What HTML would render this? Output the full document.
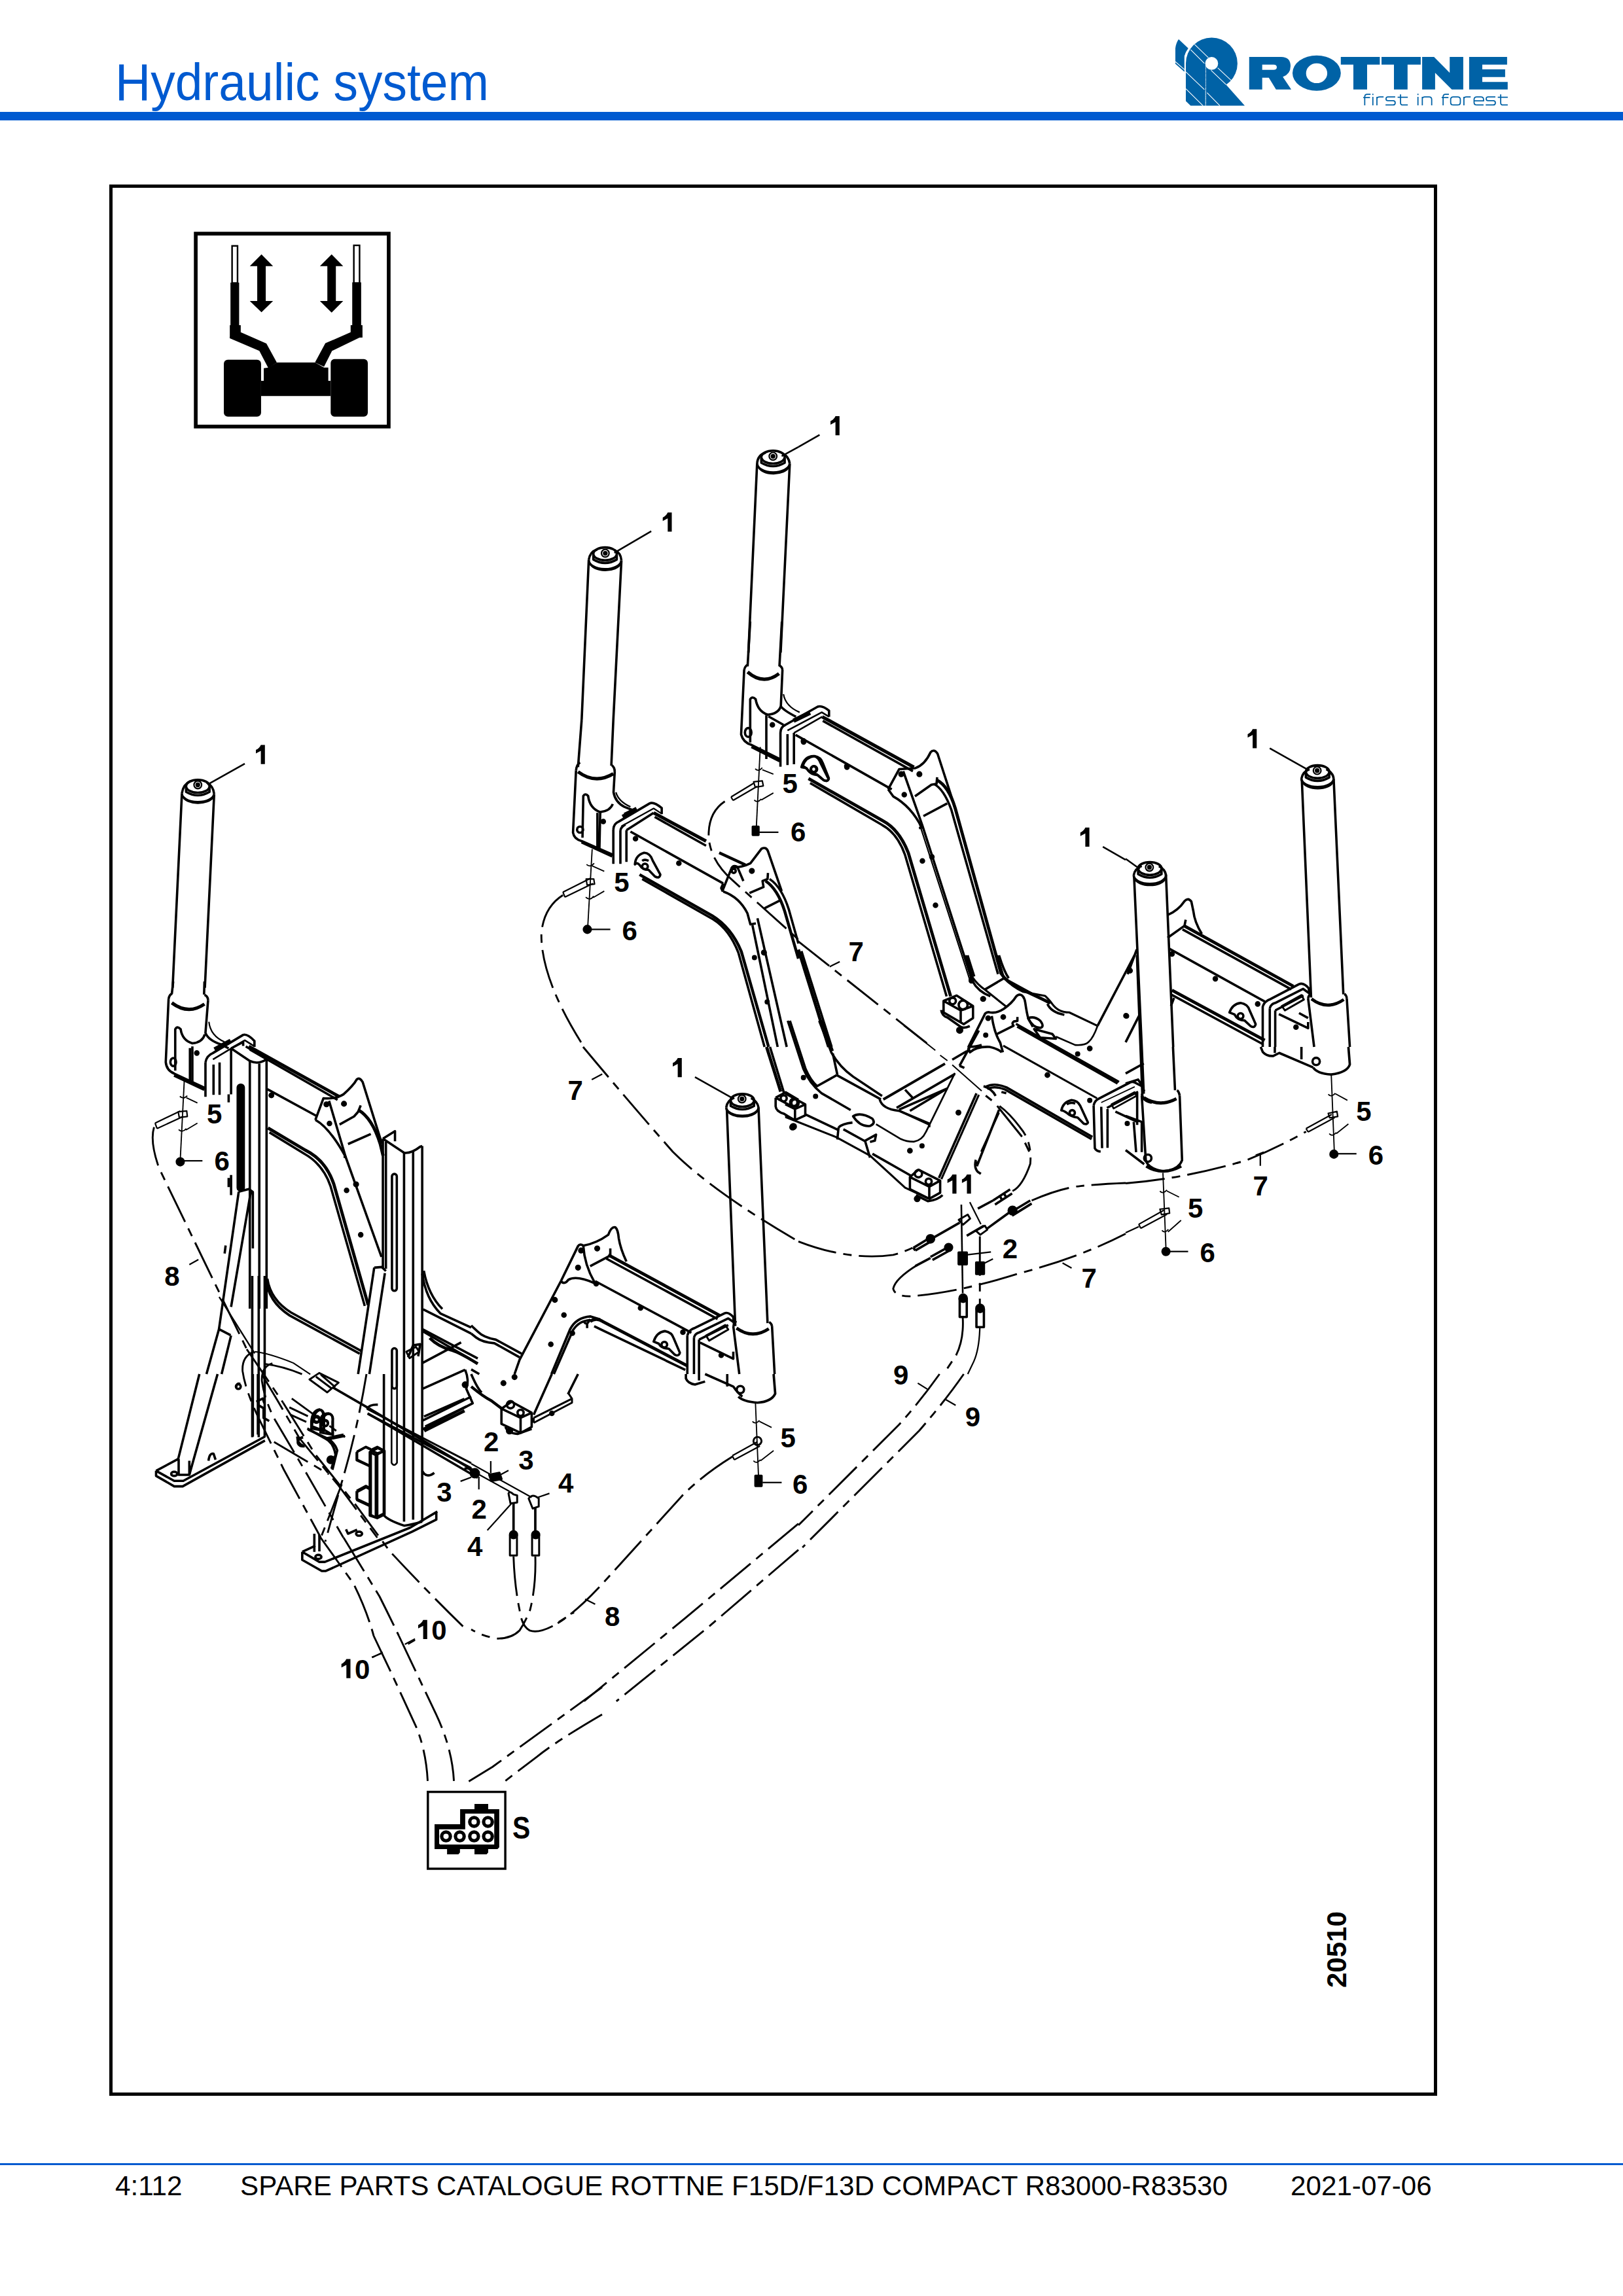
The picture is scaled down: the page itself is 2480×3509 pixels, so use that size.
<!DOCTYPE html>
<html><head><meta charset="utf-8">
<style>
html,body{margin:0;padding:0;background:#fff;}
body{width:2480px;height:3509px;position:relative;overflow:hidden;font-family:"Liberation Sans",sans-serif;}
.t{position:absolute;white-space:nowrap;line-height:1;}
#title{left:176px;top:86.3px;font-size:75px;color:#005ad0;transform:scaleY(1.059);transform-origin:0 0;}
#hline{position:absolute;left:0;top:171px;width:2480px;height:13px;background:#005ad0;}
#fline{position:absolute;left:0;top:3306px;width:2480px;height:3px;background:#005ad0;}
.ft{font-size:42.2px;color:#000;top:3320px;}
svg{position:absolute;left:0;top:0;}
</style></head><body>
<div class="t" id="title">Hydraulic system</div>
<div id="hline"></div>
<div id="fline"></div>
<div class="t ft" style="left:176px">4:112</div>
<div class="t ft" style="left:367px">SPARE PARTS CATALOGUE ROTTNE F15D/F13D COMPACT R83000-R83530</div>
<div class="t ft" style="left:1972px">2021-07-06</div>
<svg width="2480" height="3509" viewBox="0 0 2480 3509">
<!-- LOGO -->
<g fill="#0062a6">
<path fill-rule="evenodd" d="M1908.8,86.9 L1957.6,86.9 Q1972,87 1972,101 Q1972,113 1960.2,117.5 L1973.1,136.8 L1949.8,136.8 L1938.8,118.7 L1928.7,118.7 L1928.7,136.8 L1908.8,136.8 Z M1928.7,98.7 L1946,98.7 Q1951,98.7 1951,102.7 Q1951,106.7 1946,106.7 L1928.7,106.7 Z"/>
<path fill-rule="evenodd" d="M1975,111.7 A36.9,27 0 1 0 2048.8,111.7 A36.9,27 0 1 0 1975,111.7 Z M1995.7,111.9 A16.2,15.2 0 1 0 2028.1,111.9 A16.2,15.2 0 1 0 1995.7,111.9 Z"/>
<path d="M2048.8,86.9 H2108.4 V98.7 H2089 V136.8 H2068 V98.7 H2048.8 Z"/>
<path d="M2111,86.9 H2170.9 V98.7 H2150.8 V136.8 H2130 V98.7 H2111 Z"/>
<path d="M2173.1,86.9 L2191.2,86.9 L2215.2,111.2 L2215.2,86.9 L2235.9,86.9 L2235.9,136.8 L2218.4,136.8 L2192.9,111.2 L2192.9,136.8 L2173.1,136.8 Z"/>
<path d="M2244.9,86.9 H2302.9 V98.7 H2265 V106 H2299.9 V117.7 H2265 V125.2 H2303.8 V136.8 H2244.9 Z"/>
</g>
<g transform="translate(2075,135) scale(0.14787)" fill="none" stroke="#0062a6" stroke-width="12">
<path d="M130,62 H95 Q70,62 70,90 V175 M55,95 H125 M154,55 V70 M154,88 V175 M196,175 V88 M196,110 Q196,88 225,88 H265 M385,88 H310 Q290,88 290,108 Q290,128 310,128 H362 Q385,128 385,150 Q385,172 362,172 H285 M440,62 V150 Q440,172 465,172 H515 M410,92 H515 M620,55 V70 M620,88 V175 M665,175 V88 M665,110 Q665,88 690,88 H735 Q762,88 762,115 V175 M940,62 H905 Q880,62 880,90 V175 M865,95 H935 M985,88 H1030 Q1058,88 1058,115 V145 Q1058,172 1030,172 H985 Q958,172 958,145 V115 Q958,88 985,88 Z M1095,175 V88 M1095,110 Q1095,88 1120,88 H1165 M1200,130 H1298 V115 Q1298,88 1270,88 H1228 Q1200,88 1200,115 V145 Q1200,172 1228,172 H1298 M1420,88 H1345 Q1325,88 1325,108 Q1325,128 1345,128 H1397 Q1420,128 1420,150 Q1420,172 1397,172 H1320 M1475,62 V150 Q1475,172 1500,172 H1548 M1445,92 H1548"/>
</g>
<g transform="translate(1780,40) scale(0.13556)">
<g fill="#0062a6">
<circle cx="527" cy="420" r="291"/>
<path d="M236,420 H455 V897 H290 L236,845 Z"/>
<path d="M455,440 L690,660 L900,897 L455,897 Z"/>
<path d="M155,148 Q125,190 118,250 V425 L220,515 V340 Q232,290 265,250 Z"/>
</g>
<circle cx="527" cy="420" r="73" fill="#fff"/>
<g stroke="#fff" stroke-width="8" fill="none">
<path d="M335,205 L490,355 M290,265 L445,420 M595,470 L745,610 M520,497 L690,660 M236,515 L445,715 M236,705 L430,897 M475,750 L620,897 M118,400 L220,490"/>
<path d="M461,440 V897" stroke-dasharray="10 6"/>
<path d="M228,515 V340 Q240,290 275,245" stroke-width="14"/>
</g>
</g>

<!-- MAIN BORDER -->
<rect x="169.5" y="284.5" width="2024" height="2916" fill="none" stroke="#000" stroke-width="5"/>

<!-- ICON -->
<g transform="translate(280,340) scale(0.20333)">
<rect x="94" y="84" width="1450" height="1450" fill="none" stroke="#000" stroke-width="28"/>
<g fill="#000">
<rect x="355" y="452" width="65" height="323"/>
<rect x="350" y="772" width="82" height="98"/>
<path d="M350,860 L432,825 L625,910 L703,1052 L640,1095 L572,965 L350,870 Z"/>
<rect x="1270" y="450" width="67" height="325"/>
<rect x="1258" y="772" width="89" height="93"/>
<path d="M1258,825 L1347,855 L1118,965 L1058,1085 L990,1052 L1068,908 Z"/>
<path d="M703,1052 H990 L1058,1090 H1090 V1190 H1108 V1305 H585 V1190 H605 V1095 L640,1090 Z"/>
<rect x="305" y="1032" width="280" height="428" rx="30"/>
<rect x="1108" y="1027" width="279" height="433" rx="30"/>
<path d="M588,240 L675,328 H620 V590 H675 L588,675 L500,590 H556 V328 H500 Z"/>
<path d="M1115,240 L1202,328 H1147 V590 H1202 L1115,678 L1027,590 H1083 V328 H1027 Z"/>
</g>
<g fill="#fff" stroke="#000" stroke-width="12">
<rect x="367" y="176" width="41" height="279"/>
<rect x="1282" y="172" width="43" height="283"/>
</g>
</g>

<!-- S CONNECTOR BOX -->
<g transform="translate(640,2700) scale(0.123229)">
<rect x="112" y="313" width="960" height="953" fill="none" stroke="#000" stroke-width="28"/>
<path fill="#000" fill-rule="evenodd" d="M195,715 L512,715 L512,527 L690,527 L690,463 L860,463 L860,527 L997,527 L997,1000 L975,1022 L860,1022 L860,1065 L840,1087 L690,1087 L690,1022 L510,1022 L510,1065 L490,1087 L350,1087 L350,1022 L195,1022 Z M252,778 L575,778 L575,583 L935,583 L935,965 L262,965 L252,955 Z"/>
<g fill="none" stroke="#000" stroke-width="42">
<circle cx="685" cy="685" r="54"/><circle cx="857" cy="685" r="54"/>
<circle cx="337" cy="865" r="54"/><circle cx="508" cy="865" r="54"/><circle cx="685" cy="865" r="54"/><circle cx="857" cy="865" r="54"/>
</g>
</g>
<text transform="translate(783,2809.5) scale(0.95,1.1)" font-family="Liberation Sans" font-weight="bold" font-size="43">S</text>
<text transform="translate(2057,3038) rotate(-90)" font-family="Liberation Sans" font-weight="bold" font-size="42">20510</text>

<!-- DRAWING -->
<g transform="translate(220,1100) scale(0.308071)" fill="none" stroke="#000" stroke-width="11.69" stroke-linejoin="round" stroke-linecap="butt">
<path d="M188,365 Q195,320 230,305 M348,368 Q345,330 310,310"/>
<path d="M188,365 A80,42 0 0 0 348,368"/>
<path d="M194,383 A76,38 0 0 0 342,386" stroke-width="7.2"/>
<ellipse cx="267" cy="330" rx="58" ry="32"/>
<path d="M209,335 V358 Q267,392 325,358 V335"/>
<circle cx="267" cy="323" r="19" stroke-width="7.2"/><circle cx="267" cy="323" r="6" fill="#000"/>
<path d="M188,368 L142,1330 M348,372 L302,1330"/>






<path d="M315,322 L500,218" stroke-width="8.4"/>

</g>
<g transform="translate(220,1600) scale(0.308071)" fill="none" stroke="#000" stroke-width="11.69" stroke-linejoin="round" stroke-linecap="butt">
<!-- left stake channel -->




<path d="M470,718 L372,1400 M530,718 L432,1290 M470,718 L520,705 L540,720 L540,1000"/>
<path d="M405,985 L400,1025 M372,1400 L310,1623 M432,1432 L385,1623 M372,1400 L430,1430"/>
<!-- beam -->


<path d="M612,210 L860,345"/>
<circle cx="632" cy="240" r="8" fill="#000"/>
<path d="M850,362 L890,255 Q950,260 990,235 Q1040,190 1055,162 Q1070,148 1085,175 L1180,480"/>
<path d="M850,362 Q920,400 1000,545 L990,545"/>
<path d="M918,268 L1000,545 M970,385 L1042,345 L1062,322 L1075,290 M1012,482 L1125,432"/>
<path d="M615,402 L800,512 Q902,562 942,682 L1112,1280" stroke-width="15.6"/>
<path d="M622,424 L795,530 Q888,582 925,690 L1095,1285"/>
<path d="M1000,545 L1178,1042"/>
<path d="M1062,312 Q1132,352 1172,482 L1186,540" stroke-width="15.6"/>
<circle cx="1005" cy="712" r="8" fill="#000"/><circle cx="1075" cy="932" r="8" fill="#000"/><circle cx="1052" cy="682" r="9" fill="#000"/><circle cx="992" cy="282" r="9" fill="#000"/><circle cx="905" cy="285" r="9" fill="#000"/><circle cx="920" cy="380" r="8" fill="#000"/>
<!-- right stake -->
<path d="M1185,455 L1245,418 V468 M1185,455 L1290,525 Q1325,530 1370,495 L1380,492"/>
<path d="M1185,455 V1100 M1200,470 V1100 M1290,525 V1623 M1335,515 V1623 M1380,492 V1623"/>
<path d="M1380,1125 Q1398,1250 1470,1322 L1623,1392 M1388,1110 Q1410,1230 1480,1300"/>
<rect x="1230" y="630" width="24" height="580" rx="12"/>
<rect x="1230" y="1495" width="24" height="200" rx="12"/>
<path d="M1142,1095 L1062,1623 M1195,1122 L1118,1623 M1142,1095 L1180,1092 L1200,1112"/>
<!-- inner frame -->
<path d="M598,1142 L605,1150 Q615,1262 722,1332 L1070,1522" stroke-width="12.0"/>
<path d="M612,1150 Q628,1255 730,1318 L1080,1510"/>
<path d="M1385,1302 L1623,1422 M1385,1412 L1623,1552"/>
<path d="M1310,1540 L1335,1480 L1370,1475 L1360,1535" />
<!-- hose 8 -->
<path d="M50,398 Q28,470 75,602 L510,1500" stroke-dasharray="195 36 42 36" stroke-width="9.4"/>
<path d="M225,1080 L270,1055" stroke-width="7.2"/>
<!-- pins -->
<path d="M200,165 L180,560" stroke-width="6.0"/>
<path d="M55,378 L180,318 M65,405 L195,345 M55,378 L65,405" stroke-width="7.2"/>
<path d="M170,322 L212,318 L215,345 L175,350 Z" stroke-width="7.2"/>
<path d="M178,245 Q195,262 215,242 M210,252 L265,278 M172,410 Q190,428 210,405 M208,412 L265,378" stroke-width="6.0"/>
<circle cx="180" cy="570" r="17" fill="#000"/>
<path d="M200,565 L290,565" stroke-width="7.2"/>


</g>
<g transform="translate(720,600) scale(0.308071)" fill="none" stroke="#000" stroke-width="11.69" stroke-linejoin="round" stroke-linecap="butt">
<!-- M-left cylinder -->
<path d="M583,830 Q588,790 625,778 M745,832 Q742,795 712,782"/>
<path d="M583,830 A81,45 0 0 0 745,832"/>
<path d="M590,848 A76,40 0 0 0 740,850" stroke-width="7.2"/>
<ellipse cx="664" cy="800" rx="58" ry="32"/>
<path d="M606,805 V828 Q664,862 722,828 V805"/>
<circle cx="665" cy="797" r="19" stroke-width="7.2"/>
<circle cx="665" cy="797" r="6" fill="#000"/>
<path d="M583,832 L548,1623 M745,835 L705,1623"/>
<path d="M710,795 L893,688" stroke-width="8.4"/>
<!-- U1 cylinder -->
<path d="M1418,350 Q1422,310 1460,298 M1580,352 Q1576,318 1545,302"/>
<path d="M1418,350 A81,45 0 0 0 1580,352"/>
<path d="M1425,368 A76,40 0 0 0 1575,370" stroke-width="7.2"/>
<ellipse cx="1497" cy="320" rx="58" ry="32"/>
<path d="M1439,325 V348 Q1497,382 1555,348 V325"/>
<circle cx="1497" cy="316" r="19" stroke-width="7.2"/>
<circle cx="1497" cy="316" r="6" fill="#000"/>
<path d="M1418,352 L1375,1290 M1580,355 L1535,1290"/>
<path d="M1540,315 L1623,270" stroke-width="8.4"/>

</g>
<g transform="translate(720,1100) scale(0.308071)" fill="none" stroke="#000" stroke-width="11.69" stroke-linejoin="round" stroke-linecap="butt">
<!-- M-left housing -->
<path d="M548,0 L530,235 M705,0 L695,228"/>
<path d="M520,252 Q523,222 540,212 M712,256 Q711,236 698,226"/>
<path d="M530,258 Q615,322 705,268" stroke-width="16.8"/>
<path d="M520,252 L505,560 Q510,592 548,602 L700,668" />
<path d="M548,606 L700,676" stroke-width="16.8"/>
<path d="M712,256 L706,360 Q715,410 760,432 L800,448" />
<path d="M718,360 Q730,405 790,432" stroke-width="7.2"/>
<path d="M552,585 L556,378 Q566,362 580,378 Q588,440 640,458 Q690,452 702,418"/>
<path d="M640,458 L636,640 M626,462 V640"/>
<circle cx="540" cy="545" r="15"/>
<circle cx="655" cy="505" r="8" fill="#000"/>
<!-- flange -->
<path d="M705,545 Q706,515 732,505 L885,415 Q905,405 945,438 V468"/>
<path d="M745,528 L905,440 L945,466" stroke-width="7.2"/>
<path d="M705,545 V715 M740,548 V715 M770,548 V705"/>
<path d="M740,548 Q745,530 765,520 M770,548 L905,462"/>
<path d="M760,470 L820,440 M750,480 L810,450" stroke-width="16.8"/>
<!-- beam -->
<path d="M905,462 L1165,602" stroke-width="16.8"/>
<path d="M910,482 L1165,625"/>
<path d="M790,555 L1250,812"/>
<path d="M1250,812 L1240,835 L1248,852"/>
<circle cx="815" cy="590" r="8" fill="#000"/>
<circle cx="1030" cy="712" r="8" fill="#000"/>
<!-- lower thick side -->
<path d="M835,768 L1195,972 Q1290,1030 1340,1150 L1475,1623" stroke-width="14.4"/>
<path d="M848,790 L1200,990 Q1280,1040 1325,1155 L1455,1623"/>
<!-- pivot ear -->
<path d="M812,718 Q815,672 858,660 Q888,662 900,698 L938,768 Q935,790 912,778 L880,745 Q850,745 835,720 Q822,705 812,718 Z"/>
<circle cx="862" cy="728" r="14"/>
<path d="M848,700 Q860,690 880,700"/>
<!-- bracket right -->
<path d="M1245,852 L1292,735 Q1350,730 1385,712 L1440,640 Q1462,628 1472,652 L1540,850"/>
<path d="M1250,852 Q1330,880 1370,960 L1385,1015 L1412,1010"/>
<path d="M1292,735 Q1300,720 1320,730 L1350,800"/>
<path d="M1380,860 L1450,830 L1445,800 L1470,790 L1472,760"/>
<path d="M1460,800 Q1520,840 1555,950 L1623,1185" stroke-width="14.4"/>
<path d="M1480,790 Q1540,830 1575,940 L1623,1110"/>
<path d="M1395,1020 L1520,1623 M1420,985 L1565,1623"/>
<path d="M1455,935 L1535,895"/>
<path d="M1230,660 L1360,720" stroke-width="14.4"/>
<circle cx="1302" cy="750" r="10"/><circle cx="1392" cy="750" r="9" fill="#000"/>
<circle cx="1405" cy="1180" r="7" fill="#000"/><circle cx="1468" cy="1400" r="7" fill="#000"/><circle cx="1452" cy="1155" r="9" fill="#000"/>
<!-- pins left -->
<path d="M600,642 L578,1030" stroke-width="6.0"/>
<path d="M455,855 L592,786 M465,880 L604,812 M455,855 L465,880" stroke-width="7.2"/>
<path d="M570,790 L608,790 L612,815 L575,820 Z" stroke-width="7.2"/>
<path d="M572,718 Q590,735 610,712 M600,725 L660,752 M568,880 Q588,900 608,875 M605,882 L660,850" stroke-width="6.0"/>
<circle cx="576" cy="1040" r="17" fill="#000"/>
<path d="M595,1040 L690,1040" stroke-width="7.2"/>
<!-- hose 7 dashed -->
<path d="M455,870 Q360,930 348,1060 Q345,1280 545,1600" stroke-dasharray="195 36 42 36" stroke-width="9.4"/>
<path d="M1258,405 Q1175,460 1178,580 Q1185,700 1300,800 L1623,1090" stroke-dasharray="195 36 42 36" stroke-width="9.4"/>

</g>
<g transform="translate(720,1600) scale(0.308071)" fill="none" stroke="#000" stroke-width="11.69" stroke-linejoin="round" stroke-linecap="butt">
<!-- front-right cylinder -->
<path d="M1265,300 Q1270,265 1305,252 M1425,300 Q1420,270 1388,254"/>
<path d="M1265,300 A80,42 0 0 0 1425,300"/>
<path d="M1271,318 A76,38 0 0 0 1419,318" stroke-width="7.2"/>
<ellipse cx="1345" cy="265" rx="58" ry="32"/>
<path d="M1287,270 V293 Q1345,327 1403,293 V270"/>
<circle cx="1343" cy="258" r="19" stroke-width="7.2"/><circle cx="1343" cy="258" r="6" fill="#000"/>
<path d="M1268,310 L1310,1385 M1425,300 L1470,1370"/>
<path d="M1300,1385 Q1305,1366 1316,1360 M1478,1365 Q1490,1372 1492,1385"/>
<path d="M1316,1395 Q1395,1452 1476,1398" stroke-width="15.6"/>
<path d="M1300,1385 L1330,1623 M1492,1385 L1505,1623"/>
<path d="M1110,150 L1292,252" stroke-width="8.4"/>
<!-- hose 7 -->
<path d="M555,0 Q780,270 1000,520 Q1200,720 1623,965" stroke-dasharray="195 36 42 36" stroke-width="9.4"/>
<path d="M598,162 L650,135" stroke-width="7.2"/>
<!-- back arm end -->
<path d="M1465,0 L1535,222" stroke-width="15.6"/>
<path d="M1482,0 L1552,230"/>
<path d="M1510,252 L1560,225 L1623,262 M1510,252 V295 Q1512,320 1552,332 L1600,362 M1510,252 L1600,300"/>
<circle cx="1550" cy="255" r="15"/><circle cx="1600" cy="275" r="18"/>
<circle cx="1598" cy="395" r="12" fill="#000"/>
<!-- bracket -->
<path d="M445,1162 L530,988 Q540,975 556,986 Q620,975 680,932 Q695,890 715,895 Q728,905 732,950 Q740,1000 770,1065"/>
<path d="M556,986 Q562,1082 612,1168 M590,1088 L690,1035 V1000 M445,1162 Q462,1182 482,1155 Q522,1132 612,1172"/>
<path d="M680,1032 L1232,1332" stroke-width="15.6"/>
<path d="M670,1050 L1222,1350"/>
<path d="M615,1162 L1092,1418"/>
<path d="M590,1362 Q620,1340 652,1362 L1072,1582" stroke-width="15.6"/>
<path d="M610,1386 L1062,1602"/>
<circle cx="545" cy="1010" r="9" fill="#000"/><circle cx="625" cy="1000" r="9" fill="#000"/><circle cx="530" cy="1095" r="9" fill="#000"/><circle cx="620" cy="1175" r="8" fill="#000"/><circle cx="415" cy="1255" r="9" fill="#000"/><circle cx="460" cy="1330" r="8" fill="#000"/><circle cx="840" cy="1295" r="8" fill="#000"/><circle cx="395" cy="1475" r="8" fill="#000"/><circle cx="502" cy="1420" r="8" fill="#000"/><circle cx="1050" cy="1415" r="8" fill="#000"/>
<path d="M905,1462 Q920,1415 960,1410 Q995,1415 1005,1447 L1035,1517 Q1030,1537 1010,1527 L980,1497 Q945,1497 930,1472 Z"/>
<circle cx="958" cy="1477" r="14"/>
<path d="M1072,1432 Q1080,1402 1110,1394 L1255,1322 Q1275,1312 1300,1340 L1302,1372"/>
<path d="M1072,1432 V1623 M1105,1442 V1623 M1130,1452 V1623"/>
<path d="M1105,1442 Q1110,1422 1130,1417 L1275,1347 L1300,1364 M1130,1452 L1275,1380"/>
<path d="M1165,1432 L1260,1380 L1275,1402 L1180,1457 Z" stroke-width="9.6"/>
<path d="M1135,1467 L1300,1547 V1512"/>
<circle cx="1240" cy="1530" r="8" fill="#000"/>
<path d="M445,1162 L240,1552 L215,1623"/>
<path d="M398,1623 L490,1402 Q520,1342 592,1337 L640,1352" stroke-width="12.0"/>
<path d="M410,1623 L505,1405 Q535,1358 590,1355"/>
<path d="M560,1365 Q575,1385 590,1350 M575,1370 V1395"/>
<path d="M0,1382 L32,1412 Q62,1442 122,1452 L250,1522" stroke-width="12.0"/>
<path d="M0,1422 L25,1442 Q55,1465 115,1470 L240,1540"/>
<path d="M0,1600 L40,1623"/>

</g>
<g transform="translate(1220,600) scale(0.308071)" fill="none" stroke="#000" stroke-width="11.69" stroke-linejoin="round" stroke-linecap="butt">
<path d="M0,270 L105,210" stroke-width="8.4"/>


</g>
<g transform="translate(1220,1100) scale(0.308071)" fill="none" stroke="#000" stroke-width="11.69" stroke-linejoin="round" stroke-linecap="butt">
<circle cx="25" cy="105" r="8" fill="#000"/><circle cx="240" cy="230" r="8" fill="#000"/>
<path d="M15,235 Q30,180 75,180 Q100,185 110,215 L150,295 Q145,308 125,300 L90,270 Q55,268 40,240 Z"/>
<circle cx="75" cy="245" r="14"/>
<path d="M50,292 L420,502 Q500,545 545,660 L755,1372" stroke-width="15.6"/>
<path d="M58,314 L415,522 Q490,562 528,668 L735,1372"/>
<path d="M445,345 L500,245 L580,240 Q628,222 655,162 Q672,142 690,168 L778,440" />
<path d="M445,345 L470,380 Q560,430 612,535 L598,538"/>
<path d="M520,255 L615,525 L862,1295 Q892,1350 952,1372"/>
<path d="M600,515 L850,1290" stroke-width="7.2"/>
<path d="M688,300 Q745,330 778,440 L1005,1258 Q1032,1302 1092,1330 L1250,1405" stroke-width="15.6"/>
<path d="M672,318 Q722,345 758,445 L990,1262" />
<path d="M578,380 L660,322 L685,318 L688,285"/>
<path d="M620,478 L738,415"/>
<circle cx="510" cy="270" r="9" fill="#000"/><circle cx="600" cy="270" r="9" fill="#000"/><circle cx="525" cy="372" r="8" fill="#000"/>
<circle cx="615" cy="700" r="8" fill="#000"/><circle cx="680" cy="920" r="8" fill="#000"/><circle cx="662" cy="680" r="8" fill="#000"/><circle cx="858" cy="1295" r="8" fill="#000"/><circle cx="915" cy="1385" r="8" fill="#000"/>



<path d="M720,1395 L785,1368 L866,1420 V1480 L820,1510 L720,1452 Z M720,1395 L805,1442 L866,1420 M805,1442 V1505"/>
<path d="M708,1440 Q712,1470 740,1478 L800,1520 Q815,1535 850,1520"/>
<circle cx="765" cy="1395" r="16"/><circle cx="817" cy="1415" r="22"/>
<circle cx="800" cy="1540" r="12" fill="#000"/>



<path d="M0,1100 L660,1623" stroke-dasharray="195 36 42 36" stroke-width="9.4"/>
<path d="M155,1225 L205,1200" stroke-width="7.2"/>
<path d="M0,1140 L150,1623" stroke-width="15.6"/>
<path d="M15,1148 L165,1623"/>
<path d="M1510,630 L1623,695" stroke-width="8.4"/>

</g>
<g transform="translate(1720,1100) scale(0.308071)" fill="none" stroke="#000" stroke-width="11.69" stroke-linejoin="round" stroke-linecap="butt">
<!-- R-back cylinder -->
<path d="M872,292 Q878,258 912,245 M1032,292 Q1028,262 995,245"/>
<path d="M872,292 A80,42 0 0 0 1032,292"/>
<path d="M878,310 A76,38 0 0 0 1028,310" stroke-width="7.2"/>
<ellipse cx="952" cy="258" rx="58" ry="32"/>
<path d="M894,263 V286 Q952,320 1010,286 V263"/>
<circle cx="950" cy="252" r="19" stroke-width="7.2"/><circle cx="950" cy="252" r="6" fill="#000"/>
<path d="M874,298 L920,1378 M1032,295 L1080,1362"/>
<path d="M905,1382 Q908,1365 920,1360 M1085,1360 Q1095,1366 1097,1382"/>
<path d="M922,1385 Q1000,1445 1082,1388" stroke-width="15.6"/>
<path d="M905,1382 L935,1623 M1097,1382 L1112,1623"/>
<path d="M715,142 L898,245" stroke-width="8.4"/>
<!-- R-mid cylinder -->
<path d="M40,772 Q45,738 80,725 M200,772 Q196,742 165,726"/>
<path d="M40,772 A80,42 0 0 0 200,772"/>
<path d="M46,790 A76,38 0 0 0 196,790" stroke-width="7.2"/>
<ellipse cx="120" cy="738" rx="58" ry="32"/>
<path d="M62,743 V766 Q120,800 178,766 V743"/>
<circle cx="118" cy="732" r="19" stroke-width="7.2"/><circle cx="118" cy="732" r="6" fill="#000"/>
<path d="M42,780 L80,1623 M200,768 L236,1623"/>
<path d="M0,690 L70,740" stroke-width="8.4"/>
<!-- beam R-mid -->
<path d="M210,968 Q262,945 292,900 Q310,880 326,902 L336,950 Q342,1005 378,1062"/>
<path d="M208,1082 L292,1022 L298,992"/>
<path d="M290,1022 L832,1322" stroke-width="15.6"/>
<path d="M282,1040 L822,1338"/>
<path d="M215,1135 L690,1398"/>
<path d="M230,1342 L690,1590" stroke-width="15.6"/>
<path d="M224,1362 L682,1610"/>
<path d="M680,1422 Q688,1396 720,1385 L860,1312 Q882,1302 908,1332 L912,1362"/>
<path d="M680,1422 V1623 M715,1432 V1623 M742,1442 V1623"/>
<path d="M715,1432 Q720,1410 742,1405 L880,1335 L908,1355 M742,1442 L882,1368"/>
<path d="M775,1420 L872,1366 L884,1388 L790,1442 Z" stroke-width="9.6"/>
<path d="M760,1460 L905,1530 L905,1500 M860,1455 L905,1480"/>
<path d="M515,1452 Q530,1410 570,1405 Q605,1410 615,1442 L645,1510 Q640,1532 620,1520 L590,1492 Q555,1492 540,1462 Z"/>
<circle cx="570" cy="1470" r="14"/>
<circle cx="445" cy="1285" r="8" fill="#000"/><circle cx="655" cy="1410" r="8" fill="#000"/><circle cx="845" cy="1525" r="8" fill="#000"/><circle cx="230" cy="1162" r="8" fill="#000"/><circle cx="22" cy="1245" r="8" fill="#000"/><circle cx="5" cy="1470" r="7" fill="#000"/>
<path d="M55,1140 L10,1262 M72,1458 L0,1600 M240,1380 L225,1420"/>

</g>
<g transform="translate(220,1500) scale(0.308071)" fill="none" stroke="#000" stroke-width="11.69" stroke-linejoin="round" stroke-linecap="butt">
<path d="M145,0 L138,62 M300,0 L298,65"/>
<path d="M122,88 Q125,66 140,60 M318,92 Q316,72 300,66"/>
<path d="M138,106 Q220,168 300,112" stroke-width="16.8"/>
<path d="M122,88 L108,400 Q112,442 150,457 L300,527"/>
<path d="M150,465 L300,535" stroke-width="16.8"/>
<path d="M318,92 L305,255 Q320,292 382,312 L420,332"/>
<path d="M322,200 Q330,270 400,300" stroke-width="7.2"/>
<path d="M155,442 V237 Q165,218 182,237 Q190,292 240,307 Q290,302 302,262"/>
<ellipse cx="145" cy="400" rx="14" ry="20"/>
<path d="M240,322 V502 M228,330 V505"/>
<circle cx="262" cy="355" r="8" fill="#000"/>
<path d="M305,402 Q310,368 342,355 L492,265 Q512,258 548,295 V325"/>
<path d="M342,387 L500,292 L548,322" stroke-width="8.4"/>
<path d="M305,402 V572 M345,412 V562 M375,402 V562"/>
<path d="M350,337 L430,294" stroke-width="21.6"/>
<path d="M432,332 L492,300 V320"/>
<path d="M432,332 V560 M432,960 V1060 M420,560 V600 M420,975 V1020"/>
<path d="M432,332 L525,394 Q565,414 606,387 M505,322 L600,380" />
<path d="M525,394 V1623 M572,407 V1623 M608,387 V1623"/>
<rect x="465" y="512" width="30" height="525" rx="14" fill="#000"/>
<path d="M520,322 L970,572" stroke-width="15.6"/>
<path d="M525,337 L960,587"/>
<circle cx="632" cy="565" r="8" fill="#000"/>

</g>
<g transform="translate(330,1950) scale(0.246457)" fill="none" stroke="#000" stroke-width="14.61" stroke-linejoin="round" stroke-linecap="butt">
<!-- tank -->
<path d="M1280,330 L1623,512"/>
<path d="M1325,385 Q1380,440 1460,460 Q1520,480 1623,545" stroke-width="19.2"/>
<path d="M1280,540 L1520,412 M1280,700 L1545,582 M1545,582 Q1572,650 1552,700 L1592,790 L1280,952 M1290,872 L1540,762"/>
<circle cx="1545" cy="675" r="14" fill="#000"/>
<path d="M1180,470 L1240,440 L1260,470 L1200,510 Z" stroke-width="12.0"/>
<!-- rod -->
<path d="M950,822 L1623,1222"/>
<path d="M940,852 L1623,1252"/>
<!-- square tube & brackets -->
<path d="M960,1080 L1000,1060 L1045,1085 V1480 L1000,1502 L960,1482 Z M960,1080 L1000,1100 L1045,1085 M1000,1100 V1502"/>
<path d="M875,1090 L930,1060 L960,1075 M875,1090 V1140 L960,1180 M875,1340 L930,1310 L960,1325 M875,1340 V1390 L960,1430"/>
<!-- lug -->
<path d="M595,932 Q600,852 640,832 Q665,827 670,862 V962 Z M650,942 Q655,872 690,857 Q720,852 725,882 V987 Z"/>
<circle cx="625" cy="887" r="18"/><circle cx="677" cy="912" r="18"/>
<path d="M570,952 L700,1012 L800,992 M700,1012 Q740,1042 752,1082 L722,1202"/>
<circle cx="712" cy="1140" r="20" fill="#000"/>
<path d="M580,642 L640,602 L760,662 L690,722 Z M620,625 L720,700 M650,612 L740,690" stroke-width="12.0"/>
<path d="M722,690 L950,822"/>
<path d="M540,1000 Q500,1010 510,1040 Q520,1060 550,1055" stroke-width="16.8"/>
<path d="M455,815 L570,870 M460,860 L560,905" stroke-width="12.0"/>
<path d="M250,780 L290,760 L300,790 M260,800 L295,820 V880 L330,900"/>
<path d="M125,690 Q130,660 150,670"/>
<!-- hose loops -->
<path d="M230,472 Q160,500 165,590 Q180,700 260,872 L420,1200 L650,1623" stroke-dasharray="243 45 53 45" stroke-width="11.6"/>
<path d="M350,542 Q280,562 285,652 Q300,762 360,882 L560,1222 L790,1623" stroke-dasharray="243 45 53 45" stroke-width="11.6"/>
<path d="M240,470 Q330,480 480,540 L585,610" stroke-width="8.4"/>
<path d="M300,545 Q420,560 540,612" stroke-dasharray="243 45 53 45" stroke-width="11.6"/>
<path d="M20,130 L240,480" stroke-width="9.6"/>
<path d="M290,620 L380,770 L520,1010 L760,1300 L1000,1623" stroke-dasharray="243 45 53 45" stroke-width="11.6"/>
<path d="M470,760 L800,1000" stroke-dasharray="243 45 53 45" stroke-width="11.6"/>
<path d="M780,1292 L650,1623" stroke-dasharray="243 45 53 45" stroke-width="11.6"/>
<path d="M360,1030 L700,1230" stroke-dasharray="243 45 53 45" stroke-width="11.6"/>
<path d="M225,0 V1000 M265,0 V1000 M302,0 V1000"/>

</g>
<g transform="translate(1000,950) scale(0.308071)" fill="none" stroke="#000" stroke-width="11.69" stroke-linejoin="round" stroke-linecap="butt">
<path d="M475,0 L462,222 M632,0 L620,222"/>
<path d="M445,240 Q448,222 462,215 M635,240 Q634,225 620,218"/>
<path d="M462,250 Q540,318 618,258" stroke-width="16.8"/>
<path d="M445,240 L430,560 Q440,600 482,612 L622,682"/>
<path d="M482,620 L622,690" stroke-width="16.8"/>
<path d="M635,240 L627,420 Q640,440 702,472"/>
<path d="M640,360 Q650,420 720,450" stroke-width="7.2"/>
<path d="M475,600 V385 Q485,368 502,385 Q512,445 562,462 Q615,457 627,420"/>
<ellipse cx="465" cy="550" rx="16" ry="22"/>
<path d="M555,465 V682 M565,470 L640,512"/>
<path d="M625,552 Q625,522 650,512 L810,422 Q832,414 866,442 V472"/>
<path d="M625,552 V720 M660,558 V712 M692,552 V708"/>
<path d="M660,540 L830,450 L866,472 M692,552 L832,472" stroke-width="8.4"/>
<path d="M690,492 L772,452" stroke-width="21.6"/>
<path d="M832,472 L1287,722" stroke-width="16.8"/>
<path d="M835,492 L1282,742"/>
<path d="M700,562 L1177,832"/>
<path d="M735,717 Q750,672 795,667 Q825,672 835,702 L865,777 Q860,797 840,787 L810,762 Q775,760 760,735 Q748,720 735,717 Z"/>
<circle cx="792" cy="732" r="15"/>


<circle cx="585" cy="512" r="8" fill="#000"/><circle cx="740" cy="597" r="8" fill="#000"/><circle cx="955" cy="722" r="8" fill="#000"/>
<path d="M525,622 L505,1030" stroke-width="6.0"/>
<path d="M380,870 L495,800 M390,887 L510,817 M380,870 L390,887" stroke-width="7.2"/>
<path d="M492,795 L535,790 L540,815 L500,822 Z" stroke-width="7.2"/>
<path d="M500,730 Q515,747 535,725 M535,735 L590,757 M495,885 Q510,902 530,880 M530,885 L590,850" stroke-width="6.0"/>
<rect x="488" y="1018" width="28" height="40" fill="#000"/>
<path d="M520,1045 L615,1045" stroke-width="7.2"/>

</g>
<g transform="translate(1200,1560) scale(0.184843)" fill="none" stroke="#000" stroke-width="19.48" stroke-linejoin="round" stroke-linecap="butt">
<path d="M20,0 L150,400 Q200,520 300,600 L540,738" stroke-width="19.2"/>
<path d="M38,0 L168,400 Q210,495 262,540"/>
<path d="M280,0 L380,262 Q450,385 560,462 L800,622" stroke-width="19.2"/>
<path d="M298,0 L392,250 M392,270 L430,445"/>
<path d="M255,545 L425,450 M425,450 L790,650"/>
<path d="M780,650 Q800,730 940,745 L1190,850 V880"/>
<path d="M560,790 Q620,750 720,810 Q750,850 700,870 Q620,880 560,790 Z"/>
<path d="M750,855 L955,978 Q1000,1000 1062,1000 Q1130,990 1162,920 L1402,432" stroke-width="14.4"/>
<path d="M810,650 L1320,355" stroke-width="21.6"/>
<path d="M920,720 L1402,440 M940,735 L1340,560 M1030,745 L1330,565 M990,570 L1060,645"/>
<path d="M950,748 L1190,860" stroke-width="16.8"/>
<path d="M160,772 L442,905"/>
<path d="M0,795 L420,962 L700,1115 L990,1380 L1180,1470" stroke-width="16.8"/>
<path d="M720,1100 L1040,1282"/>
<path d="M1030,1292 L1100,1232 L1280,1322 V1422 L1190,1472 L1030,1392 Z M1030,1292 L1190,1372 L1280,1322 M1190,1372 V1472"/>
<circle cx="1100" cy="1265" r="30"/><circle cx="1185" cy="1330" r="25"/>
<path d="M1080,1442 L1180,1492 Q1260,1482 1300,1442"/>
<path d="M0,602 L165,692 V782 L80,822 L0,782 M0,690 L80,730 L165,692 M80,730 V822"/>
<circle cx="80" cy="680" r="30"/>
<circle cx="150" cy="470" r="12" fill="#000"/><circle cx="250" cy="625" r="12" fill="#000"/><circle cx="1030" cy="1075" r="14" fill="#000"/><circle cx="1130" cy="1035" r="12" fill="#000"/><circle cx="1430" cy="760" r="12" fill="#000"/><circle cx="60" cy="880" r="18" fill="#000"/><circle cx="1090" cy="1472" r="18" fill="#000"/>
<path d="M1290,1310 L1600,612" stroke-width="16.8"/>
<path d="M1270,1300 L1580,600"/>
<path d="M980,40 L1240,245 M1280,285 L1340,330 M1380,365 L1623,580" stroke-width="10.8"/>
<path d="M1380,322 L1500,252" stroke-width="19.2"/>
<path d="M1440,372 L1600,80 M1510,212 Q1550,222 1623,200 M1440,372 L1480,390"/>
<path d="M440,882 Q470,852 555,842 M440,882 L430,982 M480,897 L660,997 L700,1132 M660,992 L750,942 L740,992 L700,1002"/>

</g>
<g transform="translate(1460,1460) scale(0.184843)" fill="none" stroke="#000" stroke-width="19.48" stroke-linejoin="round" stroke-linecap="butt">
<path d="M85,0 L140,180 Q180,240 245,285 L420,425" stroke-width="16.8"/>
<path d="M100,0 L155,175"/>
<path d="M345,0 L400,185 Q470,262 560,302 L740,335 Q780,372 800,402 Q850,472 940,472 L1172,582" stroke-width="16.8"/>
<path d="M360,0 Q400,130 440,190"/>
<path d="M245,282 L400,190 M400,190 L770,392"/>
<path d="M760,402 Q790,472 900,492"/>
<path d="M1175,582 Q1140,682 1100,717 Q1070,747 990,742 L830,672" stroke-width="14.4"/>
<path d="M600,520 Q650,500 700,540 Q740,590 700,600 Q640,600 600,520 Z M650,610 L800,650 L830,690 L700,680 Z"/>
<path d="M1175,582 L1480,0"/>
<path d="M1500,0 L1545,1160 Q1552,1205 1623,1218"/>
<circle cx="1440" cy="125" r="14" fill="#000"/><circle cx="1410" cy="500" r="14" fill="#000"/><circle cx="1110" cy="770" r="14" fill="#000"/><circle cx="1010" cy="815" r="12" fill="#000"/><circle cx="760" cy="990" r="14" fill="#000"/><circle cx="395" cy="510" r="14" fill="#000"/><circle cx="270" cy="520" r="14" fill="#000"/><circle cx="250" cy="660" r="12" fill="#000"/><circle cx="230" cy="360" r="14" fill="#000"/><circle cx="130" cy="200" r="12" fill="#000"/><circle cx="1110" cy="1200" r="12" fill="#000"/><circle cx="1420" cy="1390" r="12" fill="#000"/><circle cx="25" cy="1300" r="14" fill="#000"/>
<!-- bracket -->
<path d="M105,762 L245,482 Q262,465 285,472 Q340,482 400,442 Q470,392 500,342 Q525,315 550,332 Q572,352 577,392 Q590,482 602,522 L640,592"/>
<path d="M300,502 Q320,642 370,722 L392,802"/>
<path d="M340,652 L480,582 Q462,562 482,547 L512,542 V510"/>
<path d="M105,762 L120,802 Q172,752 282,757 Q352,772 382,802"/>
<!-- beam -->
<path d="M395,747 L1170,1182" stroke-width="16.8"/>
<path d="M500,567 L1352,1047" stroke-width="19.2"/>
<path d="M510,590 L1340,1060"/>
<path d="M250,1087 Q322,1050 422,1092 L1132,1502" stroke-width="19.2"/>
<path d="M262,1105 Q320,1075 410,1110 L1125,1520"/>
<!-- flange -->
<path d="M1142,1242 Q1150,1202 1182,1187 L1442,1052 Q1462,1042 1482,1052 L1540,1082"/>
<path d="M1142,1242 L1152,1595 Q1165,1620 1200,1623 M1205,1252 L1212,1595"/>
<path d="M1182,1187 L1442,1057 M1205,1217 L1482,1087" stroke-width="9.6"/>
<path d="M1252,1262 L1502,1132 V1402 M1257,1272 V1592 M1322,1292 L1512,1382"/>
<path d="M1290,1232 L1480,1132 L1497,1162 L1307,1267 Z" stroke-width="14.4"/>
<!-- pivot ear -->
<path d="M875,1282 Q890,1212 960,1197 Q1010,1202 1030,1242 L1095,1382 Q1090,1402 1060,1392 L1010,1342 Q950,1332 920,1302 Q890,1282 875,1282 Z"/>
<circle cx="965" cy="1302" r="22"/>
<path d="M920,1232 Q950,1212 990,1225"/>
<!-- misc lower-left -->
<path d="M360,1302 L212,1623" stroke-width="14.4"/>
<path d="M232,1082 Q300,1102 332,1162 M380,1130 L420,1140"/>
<path d="M250,1160 L300,1200 M345,1245 L550,1500 M575,1550 L610,1623" stroke-width="16.8"/>

</g>
<g transform="translate(1220,1600) scale(0.308071)" fill="none" stroke="#000" stroke-width="11.69" stroke-linejoin="round" stroke-linecap="butt">
<!-- hose loop up -->
<path d="M1062,715 Q1112,690 1150,580 Q1160,470 1100,400 Q1040,320 985,285" stroke-dasharray="195 36 42 36" stroke-width="9.4"/>
<path d="M885,592 L995,312"/>
<path d="M880,560 Q870,600 890,620 L905,630 M875,580 L895,570"/>
<!-- fittings -->
<path d="M0,965 Q250,1062 470,1032 Q540,1012 575,992" stroke-dasharray="195 36 42 36" stroke-width="9.4"/>
<path d="M570,997 L652,947 M580,1010 L662,962 M570,997 L580,1010"/>
<circle cx="655" cy="952" r="18" fill="#000"/>
<path d="M672,945 L800,872"/>
<path d="M795,858 L840,832 L852,852 L817,882 Z" stroke-width="9.6"/>
<path d="M808,782 L815,1222" stroke-width="8.4"/>
<path d="M900,940 L900,1290" stroke-dasharray="195 36 42 36" stroke-width="9.4"/>
<path d="M835,937 L920,887"/>
<path d="M880,912 L925,887 L937,907 L902,932 Z" stroke-width="9.6"/>
<path d="M935,902 L1045,822"/>
<path d="M1050,822 L1150,762 M1060,837 L1157,777"/>
<circle cx="1062" cy="812" r="19" fill="#000"/>
<path d="M1157,762 Q1300,700 1400,690 Q1500,680 1623,675" stroke-dasharray="195 36 42 36" stroke-width="9.4"/>
<path d="M890,802 L965,762"/>
<path d="M965,762 L1050,707 M975,782 L1060,727 M1000,740 L1010,760 M1020,728 L1030,745"/>
<path d="M655,1042 L745,992 M665,1057 L755,1007"/>
<circle cx="745" cy="995" r="17" fill="#000"/>
<path d="M580,1087 L655,1047"/>
<path d="M590,1082 Q480,1150 470,1200 Q480,1240 560,1237 Q800,1217 1100,1122 Q1400,1042 1623,927" stroke-dasharray="195 36 42 36" stroke-width="9.4"/>
<path d="M1310,1072 L1355,1097" stroke-width="7.2"/>
<path d="M832,1032 L955,1017 M905,1082 L965,1052" stroke-width="7.2"/>
<rect x="795" y="1020" width="40" height="58" fill="#000"/>
<rect x="882" y="1070" width="38" height="56" fill="#000"/>
<rect x="800" y="1250" width="35" height="90"/>
<circle cx="817" cy="1247" r="18" fill="#000"/>
<rect x="883" y="1300" width="37" height="90"/>
<circle cx="901" cy="1297" r="18" fill="#000"/>
<path d="M815,1340 Q822,1450 782,1530 L720,1623" stroke-dasharray="195 36 42 36" stroke-width="9.4"/>
<path d="M900,1390 Q897,1500 870,1560 L840,1623" stroke-width="7.2"/>
<path d="M850,770 L905,880" stroke-width="7.2"/>

</g>
<g transform="translate(1720,1600) scale(0.308071)" fill="none" stroke="#000" stroke-width="11.69" stroke-linejoin="round" stroke-linecap="butt">
<path d="M80,0 L90,232 M235,0 L245,215"/>
<path d="M80,242 Q85,217 95,212 M255,215 Q265,222 268,242"/>
<path d="M90,252 Q170,302 252,257" stroke-width="15.6"/>
<path d="M80,242 L100,562 Q110,602 182,617 Q262,612 280,562 L268,242"/>
<path d="M102,592 Q182,642 276,592" stroke-width="14.4"/>
<path d="M0,342 L80,372 V522 M0,512 Q40,542 92,582 M40,372 L52,522 M0,182 L62,162 L82,192 M0,132 L90,82"/>
<circle cx="110" cy="552" r="18"/>
<path d="M1105,0 L1112,87 Q1100,127 1020,137 Q950,132 930,102" stroke-width="12.0"/>
<circle cx="945" cy="72" r="18"/>
<path d="M670,0 L680,25 Q700,47 732,45 L762,30 L930,102 M740,0 V30 M872,0 V62"/>
<!-- pins right -->
<path d="M1020,140 L1035,518" stroke-width="6.0"/>
<path d="M1005,235 Q1020,252 1040,230 M1040,232 L1100,265 M1010,430 Q1025,448 1045,425 M1045,430 L1105,382" stroke-width="6.0"/>
<path d="M895,405 L1022,335 M905,422 L1038,350 M895,405 L905,422" stroke-width="7.2"/>
<path d="M1005,330 L1048,320 L1052,345 L1012,352 Z" stroke-width="7.2"/>
<circle cx="1033" cy="532" r="17" fill="#000"/>
<path d="M1050,530 L1145,530" stroke-width="7.2"/>
<!-- pins left -->
<path d="M185,625 L200,1000" stroke-width="6.0"/>
<path d="M170,715 Q185,732 205,710 M205,715 L265,745 M180,910 Q195,927 212,905 M210,918 L275,860" stroke-width="6.0"/>
<path d="M65,880 L190,810 M75,900 L205,830 M65,880 L75,900" stroke-width="7.2"/>
<path d="M170,805 L215,800 L218,825 L178,832 Z" stroke-width="7.2"/>
<circle cx="200" cy="1015" r="17" fill="#000"/>
<path d="M220,1015 L310,1015" stroke-width="7.2"/>
<path d="M0,677 Q300,652 600,562 Q750,502 895,420" stroke-dasharray="195 36 42 36" stroke-width="9.4"/>
<path d="M0,922 L65,892" stroke-width="7.2"/>
<path d="M668,530 V590 M645,537 L685,522" stroke-width="7.2"/>

</g>
<g transform="translate(220,2100) scale(0.308071)" fill="none" stroke="#000" stroke-width="11.69" stroke-linejoin="round" stroke-linecap="butt">
<path d="M275,0 L170,420 M365,0 L225,500"/>
<path d="M60,480 L172,420 M60,480 V505 L150,557 L192,557 L600,330 M60,480 L150,530 L195,530 L600,310"/>
<path d="M172,420 V500 L225,500 V430"/>
<ellipse cx="150" cy="495" rx="15" ry="10"/>
<path d="M320,430 Q325,390 345,395 L355,425"/>
<path d="M540,0 V310 M565,0 V300"/>
<circle cx="468" cy="62" r="12"/>
<!-- right foot -->
<path d="M1190,0 V700 M1290,0 V732 M1335,0 V722 M1380,0 V732"/>
<path d="M1228,0 V440 Q1240,462 1255,440 V0" stroke-width="8.4"/>
<path d="M1190,700 Q1205,722 1290,752 Q1330,747 1380,732"/>
<path d="M785,882 V922 L882,977 L902,977 L1330,782 L1450,722 V682 M785,882 L870,932 L897,932 L1320,762 L1455,682 M785,882 L850,852"/>
<path d="M845,792 V882 M870,800 V880"/>
<path d="M1120,387 L1160,367 L1190,382 V692 L1150,712 L1120,702 Z M1120,387 L1150,402 L1190,382 M1150,402 V712"/>
<path d="M1055,387 L1100,362 L1120,372 M1055,387 V427 L1120,457 M1055,580 L1100,555 L1120,565 M1055,580 V620 L1120,650"/>
<ellipse cx="865" cy="907" rx="15" ry="10"/><ellipse cx="1067" cy="792" rx="15" ry="10"/>
<path d="M1002,770 L1012,792 L1057,772"/>
<path d="M1105,172 L1623,442" stroke-width="9.6"/>
<path d="M1110,197 L1623,467"/>
<path d="M1105,172 Q1120,150 1160,152"/>
<path d="M830,235 Q835,180 870,175 Q890,180 890,210 V280 L830,270 Z M875,230 Q880,195 915,195 Q940,200 935,235 V300 L875,290 Z"/>
<circle cx="855" cy="228" r="14"/><circle cx="898" cy="245" r="14"/>
<path d="M810,270 L900,320 L990,300 M900,320 Q940,340 950,400 L930,470"/>
<circle cx="930" cy="425" r="14" fill="#000"/>
<path d="M760,310 Q760,345 790,355"/>
<path d="M1390,282 L1590,182" stroke-width="15.6"/>
<path d="M1380,232 L1623,112 M1395,260 L1600,160"/>
<path d="M1380,480 Q1400,520 1440,490"/>
<path d="M1590,470 Q1610,460 1623,480"/>
<path d="M1310,1340 L1345,1320 M1130,1405 L1180,1385 M1570,532 L1623,512" stroke-width="7.2"/>

</g>
<g transform="translate(720,2100) scale(0.308071)" fill="none" stroke="#000" stroke-width="11.69" stroke-linejoin="round" stroke-linecap="butt">
<path d="M0,62 Q60,112 100,132 L150,170" stroke-width="14.4"/>
<path d="M0,0 Q30,70 52,92 M400,0 L310,202 M530,0 L480,100"/>
<path d="M310,217 L500,122 V142 L310,242 M480,92 L500,122 M310,217 V242" stroke-width="9.6"/>
<path d="M150,172 L200,137 L300,192 V262 L245,292 L150,247 Z M150,172 L245,217 L300,192 M245,217 V292"/>
<circle cx="195" cy="152" r="18"/><circle cx="245" cy="192" r="15"/>
<path d="M170,262 Q180,292 230,297 L300,272"/>
<circle cx="160" cy="45" r="9" fill="#000"/><circle cx="215" cy="15" r="9" fill="#000"/><circle cx="190" cy="282" r="12" fill="#000"/><circle cx="400" cy="195" r="8" fill="#000"/>
<path d="M1065,0 V22 Q1075,47 1110,52 L1160,37 M1130,0 V32 M1160,0 L1300,62 Q1320,92 1345,112 M1270,0 V62"/>
<path d="M1500,0 L1508,97 Q1490,137 1420,142 Q1350,137 1325,112" stroke-width="12.0"/>
<circle cx="1335" cy="77" r="18"/>
<path d="M1410,145 L1425,505" stroke-width="6.0"/>
<path d="M1395,235 Q1410,252 1430,230 M1430,235 L1490,265 M1400,430 Q1415,448 1435,425 M1435,430 L1500,380" stroke-width="6.0"/>
<path d="M1295,405 L1418,337 M1305,425 L1432,357 M1295,405 L1305,425" stroke-width="7.2"/>
<circle cx="1420" cy="332" r="20" stroke-width="9.6"/>
<rect x="1410" y="505" width="30" height="50" fill="#000"/>
<path d="M1445,538 L1540,538" stroke-width="7.2"/>
<path d="M0,445 L300,612 M0,477 L190,582" stroke-width="7.2"/>
<circle cx="18" cy="492" r="20" fill="#000"/>
<path d="M38,510 V572 M97,432 V492 M140,502 L185,478" stroke-width="7.2"/>
<path d="M90,500 L140,490 L150,520 L100,530 Z" fill="#000"/>
<path d="M185,592 Q190,577 210,597 L228,602 V637 L195,642 Z M285,617 Q300,597 320,607 L335,617 V657 L305,667 Z" stroke-width="9.6"/>
<path d="M210,642 V790 M318,662 V790" stroke-width="12.0"/>
<rect x="192" y="800" width="35" height="100" stroke-width="9.6"/><circle cx="210" cy="797" r="17" fill="#000"/>
<rect x="302" y="800" width="35" height="100" stroke-width="9.6"/><circle cx="320" cy="797" r="17" fill="#000"/>
<path d="M210,905 Q215,1050 240,1170 Q250,1250 290,1272 Q330,1287 400,1252 L510,1182" stroke-dasharray="195 36 42 36" stroke-width="9.4"/>
<path d="M318,905 Q322,1050 292,1170 Q272,1222 240,1272 Q200,1312 130,1312 Q60,1302 0,1267" stroke-dasharray="195 36 42 36" stroke-width="9.4"/>
<path d="M80,775 L200,642 M330,612 L388,592" stroke-width="7.2"/>
<path d="M1295,410 Q1150,500 1050,600 L640,1052 Q500,1202 400,1252" stroke-dasharray="195 36 42 36" stroke-width="9.4"/>
<path d="M565,1117 L615,1142" stroke-width="7.2"/>
<path d="M1623,742 L1060,1212 L560,1623" stroke-dasharray="195 36 42 36" stroke-width="9.4"/>
<path d="M1623,872 L1180,1252 L720,1623" stroke-dasharray="195 36 42 36" stroke-width="9.4"/>

</g>
<g transform="translate(1220,2100) scale(0.308071)" fill="none" stroke="#000" stroke-width="11.69" stroke-linejoin="round" stroke-linecap="butt">
<path d="M700,0 Q600,140 500,250 L0,750" stroke-dasharray="195 36 42 36" stroke-width="9.4"/>
<path d="M820,0 Q730,130 600,280 L20,860" stroke-dasharray="195 36 42 36" stroke-width="9.4"/>
<path d="M728,125 L780,155 M592,45 L640,75" stroke-width="7.2"/>

</g>
<g transform="translate(420,2500) scale(0.308071)" fill="none" stroke="#000" stroke-width="11.69" stroke-linejoin="round" stroke-linecap="butt">
<path d="M490,0 Q600,230 700,450 Q750,570 758,720" stroke-dasharray="195 36 42 36" stroke-width="9.4"/>
<path d="M615,0 Q700,180 800,390 Q880,560 888,720" stroke-dasharray="195 36 42 36" stroke-width="9.4"/>
<path d="M1623,255 L1080,650 L962,722" stroke-dasharray="195 36 42 36" stroke-width="9.4"/>
<path d="M1623,390 Q1400,520 1300,600 L1140,722" stroke-dasharray="195 36 42 36" stroke-width="9.4"/>
<path d="M483,108 L535,82 M645,42 L695,15" stroke-width="7.2"/>

</g>
<g fill="none" stroke="#000" stroke-width="2.9" stroke-linecap="butt">
<path d="M487,2346 L540,2420 Q560,2460 571,2500" stroke-dasharray="60 11 13 11"/>
<path d="M525,2350 L580,2440 Q595,2470 609.5,2500" stroke-dasharray="60 11 13 11"/>
<path d="M377,2062 L432.6,2143.7" stroke-dasharray="60 11 13 11"/>
<path d="M432.6,2143.7 L481.9,2223 L543.5,2300 L595.8,2371 Q660,2440 713,2491" stroke-dasharray="60 11 13 11"/>
<path d="M560,2100 Q545,2190 522,2266 L497,2356" stroke-dasharray="60 11 13 11"/>
</g>

<defs><path id="one" d="M7.6,0 H13.8 V29.3 H7.6 V9 L0,13 V7.6 Q5.5,5 7.6,0 Z"/></defs>
<g font-family="Liberation Sans" font-weight="bold" font-size="42" fill="#000" stroke="none">
<use href="#one" x="1269.0" y="636.0"/>
<use href="#one" x="1012.7" y="783.3"/>
<use href="#one" x="391.0" y="1138.5"/>
<use href="#one" x="1906.5" y="1114.3"/>
<use href="#one" x="1650.8" y="1264.8"/>
<use href="#one" x="1028.0" y="1616.9"/>
<text x="938.3" y="1362.9">5</text>
<text x="950.6" y="1436.8">6</text>
<text x="1195.5" y="1212.0">5</text>
<text x="1208.0" y="1286.0">6</text>
<text x="316.0" y="1716.5">5</text>
<text x="327.4" y="1789.0">6</text>
<text x="251.3" y="1964.5">8</text>
<text x="867.4" y="1681.1">7</text>
<text x="1296.5" y="1469.1">7</text>
<use href="#one" x="1447.7" y="1795.0"/>
<use href="#one" x="1469.9" y="1795.0"/>
<text x="1531.7" y="1923.0">2</text>
<text x="1652.4" y="1967.6">7</text>
<text x="2072.3" y="1713.4">5</text>
<text x="2090.8" y="1779.7">6</text>
<text x="1815.0" y="1861.3">5</text>
<text x="1833.5" y="1929.1">6</text>
<text x="1914.5" y="1827.4">7</text>
<text x="1192.4" y="2211.9">5</text>
<text x="1211.0" y="2282.8">6</text>
<text x="739.0" y="2218.1">2</text>
<text x="792.3" y="2245.8">3</text>
<text x="853.0" y="2281.2">4</text>
<text x="720.5" y="2321.3">2</text>
<text x="714.0" y="2378.3">4</text>
<text x="923.9" y="2484.6">8</text>
<text x="667.3" y="2295.1">3</text>
<use href="#one" x="639.0" y="2475.8"/>
<text x="659.2" y="2506.1">0</text>
<use href="#one" x="521.7" y="2535.4"/>
<text x="541.9" y="2565.7">0</text>
<text x="1365.0" y="2116.0">9</text>
<text x="1474.7" y="2179.6">9</text>
</g>
</svg>
</body></html>
